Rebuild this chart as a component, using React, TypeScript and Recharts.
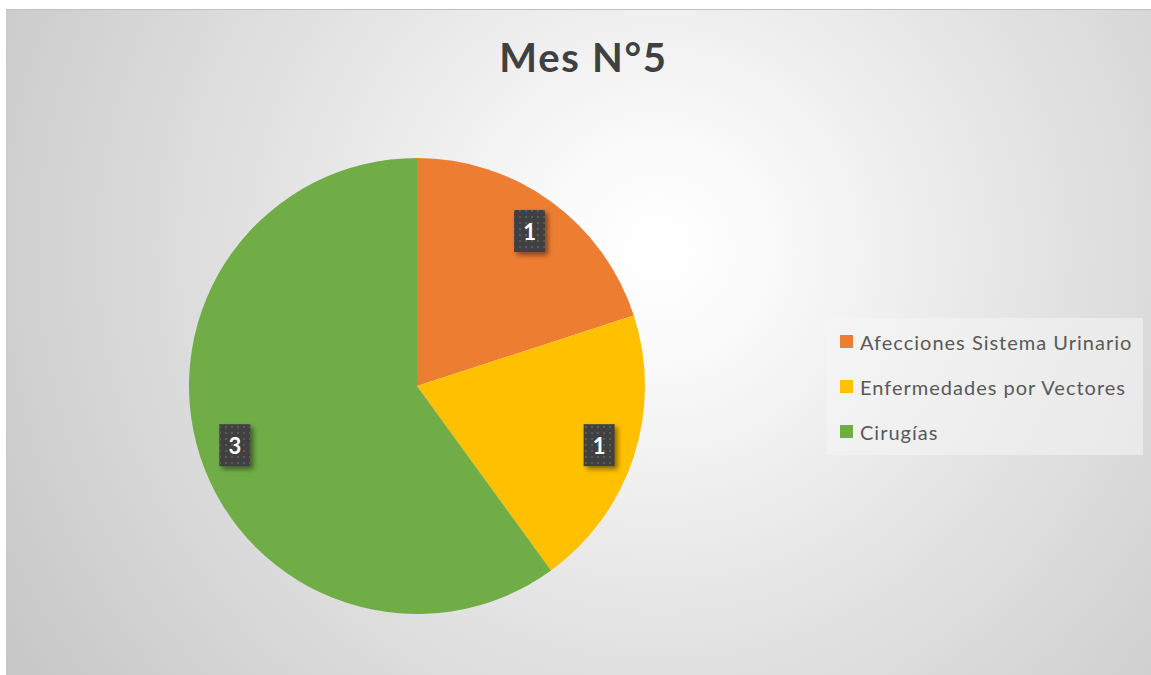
import React from "react";
import { PieChart, Pie, Cell, Legend } from "recharts";

const categories = ["Afecciones Sistema Urinario", "Enfermedades por Vectores", "Cirugías"];
const values = [1, 1, 3];
const colors = ["#ED7D31", "#FFC000", "#70AD47"];
const title = "Mes N°5";

const data = categories.map((name, i) => ({ name, value: values[i] }));

const RAD = Math.PI / 180;

const renderLabel = (props: any) => {
  const { cx, cy, midAngle, outerRadius, value } = props;
  const r = outerRadius * 0.84;
  const x = cx + r * Math.cos(-midAngle * RAD);
  const y = cy + r * Math.sin(-midAngle * RAD);
  const w = 31;
  const h = 42;
  return (
    <g>
      <rect x={x - w / 2} y={y - h / 2} width={w} height={h} fill="#404040" filter="url(#lblShadow)" />
      <rect x={x - w / 2} y={y - h / 2} width={w} height={h} fill="url(#dots)" />
      <text
        x={x}
        y={y}
        textAnchor="middle"
        dominantBaseline="central"
        fill="#ffffff"
        fontFamily="Lato, 'Open Sans', sans-serif"
        fontWeight={700}
        fontSize={22}
      >
        {value}
      </text>
    </g>
  );
};

const renderLegend = () => (
  <div
    style={{
      width: 316,
      height: 137,
      background: "rgba(245,245,245,0.55)",
      boxSizing: "border-box",
      paddingTop: 1,
      paddingLeft: 13,
    }}
  >
    {categories.map((c, i) => (
      <div key={c} style={{ display: "flex", alignItems: "center", height: 45 }}>
        <div style={{ width: 13, height: 13, background: colors[i], marginRight: 7 }} />
        <span
          style={{
            fontFamily: "Lato, 'Open Sans', sans-serif",
            fontSize: 20,
            letterSpacing: 1,
            color: "#595959",
            whiteSpace: "nowrap",
          }}
        >
          {c}
        </span>
      </div>
    ))}
  </div>
);

export default function App() {
  return (
    <div style={{ position: "absolute", left: 0, top: 0, width: 1151, height: 675, background: "#ffffff", overflow: "hidden" }}>
      <div
        style={{
          position: "absolute",
          left: 6,
          top: 9,
          width: 1145,
          height: 666,
          background:
            "radial-gradient(circle farthest-corner at 57% 36%, #ffffff 0%, #fbfbfb 12%, #e6e6e6 45%, #c6c6c6 100%)",
          borderTop: "1px solid #c0c0c0",
          borderLeft: "1px solid #c8c8c8",
          boxSizing: "border-box",
        }}
      >
        <div
          style={{
            position: "absolute",
            left: 0,
            top: 23,
            width: 1153,
            textAlign: "center",
            fontFamily: "Lato, 'Open Sans', sans-serif",
            fontWeight: 700,
            fontSize: 40,
            letterSpacing: 1.7,
            color: "#404040",
          }}
        >
          {title}
        </div>
        <PieChart width={1145} height={666} style={{ position: "absolute", left: 0, top: 0 }}>
          <defs>
            <pattern id="dots" width="6" height="6" patternUnits="userSpaceOnUse">
              <rect x="2" y="2" width="2" height="2" fill="#5a5a5a" />
            </pattern>
            <filter id="lblShadow" x="-50%" y="-50%" width="200%" height="200%">
              <feDropShadow dx="3" dy="3" stdDeviation="2.5" floodColor="#000000" floodOpacity="0.45" />
            </filter>
          </defs>
          <Pie
            data={data}
            dataKey="value"
            nameKey="name"
            cx={405}
            cy={371}
            outerRadius={228}
            startAngle={90}
            endAngle={-270}
            stroke="none"
            label={renderLabel}
            labelLine={false}
            isAnimationActive={false}
          >
            {data.map((d, i) => (
              <Cell key={d.name} fill={colors[i]} />
            ))}
          </Pie>
          <Legend
            content={renderLegend}
            layout="vertical"
            wrapperStyle={{ position: "absolute", left: 820, top: 308, width: 316, height: 137 }}
          />
        </PieChart>
      </div>
    </div>
  );
}
